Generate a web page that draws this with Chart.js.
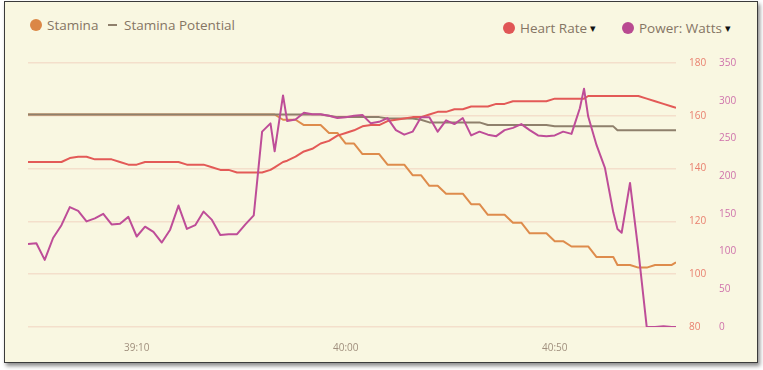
<!DOCTYPE html>
<html>
<head>
<meta charset="utf-8">
<script src="https://cdn.jsdelivr.net/npm/chart.js@4.4.0/dist/chart.umd.min.js"></script>
<style>
    html, body { margin: 0; padding: 0; background: #ffffff; }
    body { width: 763px; height: 370px; position: relative; overflow: hidden; font-family: "Open Sans", sans-serif; }
    .panel {
        position: absolute; left: 4px; top: 1px; width: 752px; height: 360px;
        background: #f9f7e1; border: 1px solid #3b3b3b;
        box-shadow: 2px 3px 4px rgba(0, 0, 0, 0.45);
    }
    #workoutChart { position: absolute; left: 0; top: 0; }
    .legend-item {
        position: absolute; display: flex; align-items: center; white-space: nowrap;
        font-size: 13.5px; color: #857564; line-height: 18px;
    }
    .dot { width: 12px; height: 12px; border-radius: 50%; margin-right: 5px; }
    .dash { width: 9px; height: 2px; margin-right: 7px; }
    .caret { font-family: "DejaVu Sans", sans-serif; font-size: 11px; color: #111111; margin-left: 3px; position: relative; top: 1px; }
</style>
</head>
<body>
<div class="panel"></div>

<div class="legend-item" style="left:30px; top:16px;">
    <span class="dot" style="background:#db8746"></span>Stamina
</div>
<div class="legend-item" style="left:108px; top:16px;">
    <span class="dash" style="background:#8f806c"></span>Stamina Potential
</div>
<div class="legend-item" style="left:503px; top:19px;">
    <span class="dot" style="background:#e05656"></span>Heart Rate<span class="caret">▾</span>
</div>
<div class="legend-item" style="left:622px; top:19px;">
    <span class="dot" style="background:#b94a91"></span>Power: Watts<span class="caret">▾</span>
</div>

<canvas id="workoutChart" width="763" height="370"></canvas>

<script>
// elapsed time of each sample, in seconds (38:44 .. 41:19)
const times = [
    2324, 2326, 2328, 2330, 2332, 2334, 2336, 2338, 2340, 2342,
    2344, 2346, 2348, 2350, 2352, 2354, 2356, 2358, 2360, 2362,
    2364, 2366, 2368, 2370, 2372, 2374, 2376, 2378, 2380, 2382,
    2383, 2385, 2386,
    2388, 2390, 2392, 2394, 2396, 2398, 2400, 2402, 2404, 2406,
    2408, 2410, 2412, 2414, 2416, 2418, 2420, 2422, 2424, 2426,
    2428, 2430, 2432, 2434, 2436, 2438, 2440, 2442, 2444, 2446,
    2448, 2450, 2452, 2454, 2456,
    2457,
    2458, 2460, 2462, 2464,
    2465,
    2466, 2468, 2470, 2472, 2474, 2476, 2478,
    2479
];

const powerWatts = [
    110, 111, 89, 118, 135, 159, 154, 140, 144, 150,
    136, 137, 146, 120, 133, 126, 112, 129, 161, 130,
    135, 153, 142, 122, 123, 123, 136, 148, 259, 270,
    233, 307, 273,
    275, 284, 282, 282, 280, 277, 278, 280, 281, 270,
    272, 277, 261, 255, 259, 278, 278, 259, 274, 269,
    277, 254, 259, 255, 253, 261, 264, 269, 261, 254,
    253, 254, 259, 256, 290,
    316,
    279, 241, 211, 152,
    130,
    125, 191, 101, 0, 0, 1, 0,
    0
];

const heartRate = [
    142.5, 142.5, 142.5, 142.5, 142.5, 144, 144.5, 144.5, 143.5, 143.5,
    143.5, 142.5, 141.5, 141.5, 142.5, 142.5, 142.5, 142.5, 142.5, 141.5,
    141.5, 141.5, 140.5, 139.5, 139.5, 138.5, 138.5, 138.5, 138.5, 139.5,
    140.5, 142.5, 143,
    144.5, 146.5, 147.5, 149.5, 150.5, 152.5, 153.5, 154.5, 156, 156.5,
    156.5, 158, 158.5, 159, 159.5, 159.5, 160.5, 161.5, 161.5, 162.5,
    162.5, 163.5, 163.5, 163.5, 164.5, 164.5, 165.5, 165.5, 165.5, 165.5,
    165.5, 166.5, 166.5, 166.5, 166.5,
    166.5,
    167.5, 167.5, 167.5, 167.5,
    167.5,
    167.5, 167.5, 167.5, 166.5, 165.5, 164.5, 163.5,
    163
];

// stamina in percent
const stamina = [
    80.5, 80.5, 80.5, 80.5, 80.5, 80.5, 80.5, 80.5, 80.5, 80.5,
    80.5, 80.5, 80.5, 80.5, 80.5, 80.5, 80.5, 80.5, 80.5, 80.5,
    80.5, 80.5, 80.5, 80.5, 80.5, 80.5, 80.5, 80.5, 80.5, 80.5,
    80.5, 78.5, 78.5,
    78.5, 76.5, 76.5, 76.5, 73.5, 73.5, 69.5, 69.5, 65.5, 65.5,
    65.5, 61.5, 61.5, 61.5, 57.5, 57.5, 53.5, 53.5, 50.5, 50.5,
    50.5, 46.5, 46.5, 42.5, 42.5, 42.5, 39.5, 39.5, 35.5, 35.5,
    35.5, 32.5, 32.5, 30.5, 30.5,
    30.5,
    30.5, 26.5, 26.5, 26.5,
    23.5,
    23.5, 23.5, 22.5, 22.5, 23.5, 23.5, 23.5,
    24.5
];

const staminaPotential = [
    80.5, 80.5, 80.5, 80.5, 80.5, 80.5, 80.5, 80.5, 80.5, 80.5,
    80.5, 80.5, 80.5, 80.5, 80.5, 80.5, 80.5, 80.5, 80.5, 80.5,
    80.5, 80.5, 80.5, 80.5, 80.5, 80.5, 80.5, 80.5, 80.5, 80.5,
    80.5, 80.5, 80.5,
    80.5, 80.5, 80.5, 80.5, 80, 79.5, 79.5, 79.5, 79.5, 79.5,
    79.5, 79, 79, 79, 79, 78.5, 77.5, 77.5, 77.5, 77.5,
    77.5, 77.5, 77.5, 76.5, 76.5, 76.5, 76.5, 76.5, 76.5, 76.5,
    76.5, 76, 76, 76, 76,
    76,
    76, 76, 76, 76,
    74.5,
    74.5, 74.5, 74.5, 74.5, 74.5, 74.5, 74.5,
    74.5
];

const xTicks = [2350, 2400, 2450];
const heartRateTicks = [80, 100, 120, 140, 160, 180];
const powerTicks = [0, 50, 100, 150, 200, 250, 300, 350];

function toPoints(values) {
    return values.map((v, i) => ({ x: times[i], y: v }));
}

function formatTime(sec) {
    const m = Math.floor(sec / 60);
    const s = sec % 60;
    return m + ':' + (s < 10 ? '0' + s : s);
}

const tickFont = { family: '"Open Sans", sans-serif', size: 10 };

new Chart(document.getElementById('workoutChart'), {
    type: 'line',
    data: {
        // first dataset is drawn on top
        datasets: [
            {
                label: 'Power: Watts',
                data: toPoints(powerWatts),
                yAxisID: 'yPower',
                borderColor: '#be4d98',
                borderWidth: 2
            },
            {
                label: 'Heart Rate',
                data: toPoints(heartRate),
                yAxisID: 'yHeart',
                borderColor: '#e35a57',
                borderWidth: 2
            },
            {
                label: 'Stamina Potential',
                data: toPoints(staminaPotential),
                yAxisID: 'yStamina',
                borderColor: '#8f806c',
                borderWidth: 2
            },
            {
                label: 'Stamina',
                data: toPoints(stamina),
                yAxisID: 'yStamina',
                borderColor: '#de8c4c',
                borderWidth: 2
            }
        ]
    },
    options: {
        responsive: false,
        animation: false,
        devicePixelRatio: 1,
        layout: { padding: { top: 63, left: 28, right: 0, bottom: 0 } },
        elements: {
            point: { radius: 0 },
            line: { tension: 0, fill: false, borderJoinStyle: 'round' }
        },
        plugins: {
            legend: { display: false },
            tooltip: { enabled: false }
        },
        scales: {
            x: {
                type: 'linear',
                min: 2324,
                max: 2479,
                grid: { display: false },
                border: { display: false },
                ticks: {
                    color: '#a08f7d',
                    font: tickFont,
                    padding: 7,
                    maxRotation: 0,
                    callback: v => formatTime(v)
                },
                afterBuildTicks: axis => { axis.ticks = xTicks.map(v => ({ value: v })); },
                afterFit: axis => { axis.height = 43; }
            },
            yHeart: {
                position: 'right',
                weight: 0,
                min: 80,
                max: 180,
                grid: { color: '#f4dfcb', lineWidth: 1.5, drawTicks: false },
                border: { display: false },
                ticks: { color: '#e9806f', font: tickFont, padding: 13 },
                afterBuildTicks: axis => { axis.ticks = heartRateTicks.map(v => ({ value: v })); },
                afterFit: axis => { axis.width = 32; }
            },
            yPower: {
                position: 'right',
                weight: 1,
                min: 0,
                max: 350,
                grid: { display: false, drawTicks: false },
                border: { display: false },
                ticks: { color: '#cf72ab', font: tickFont, padding: 11 },
                afterBuildTicks: axis => { axis.ticks = powerTicks.map(v => ({ value: v })); },
                afterFit: axis => { axis.width = 55; }
            },
            yStamina: {
                display: false,
                min: 0,
                max: 100
            }
        }
    }
});
</script>
</body>
</html>
